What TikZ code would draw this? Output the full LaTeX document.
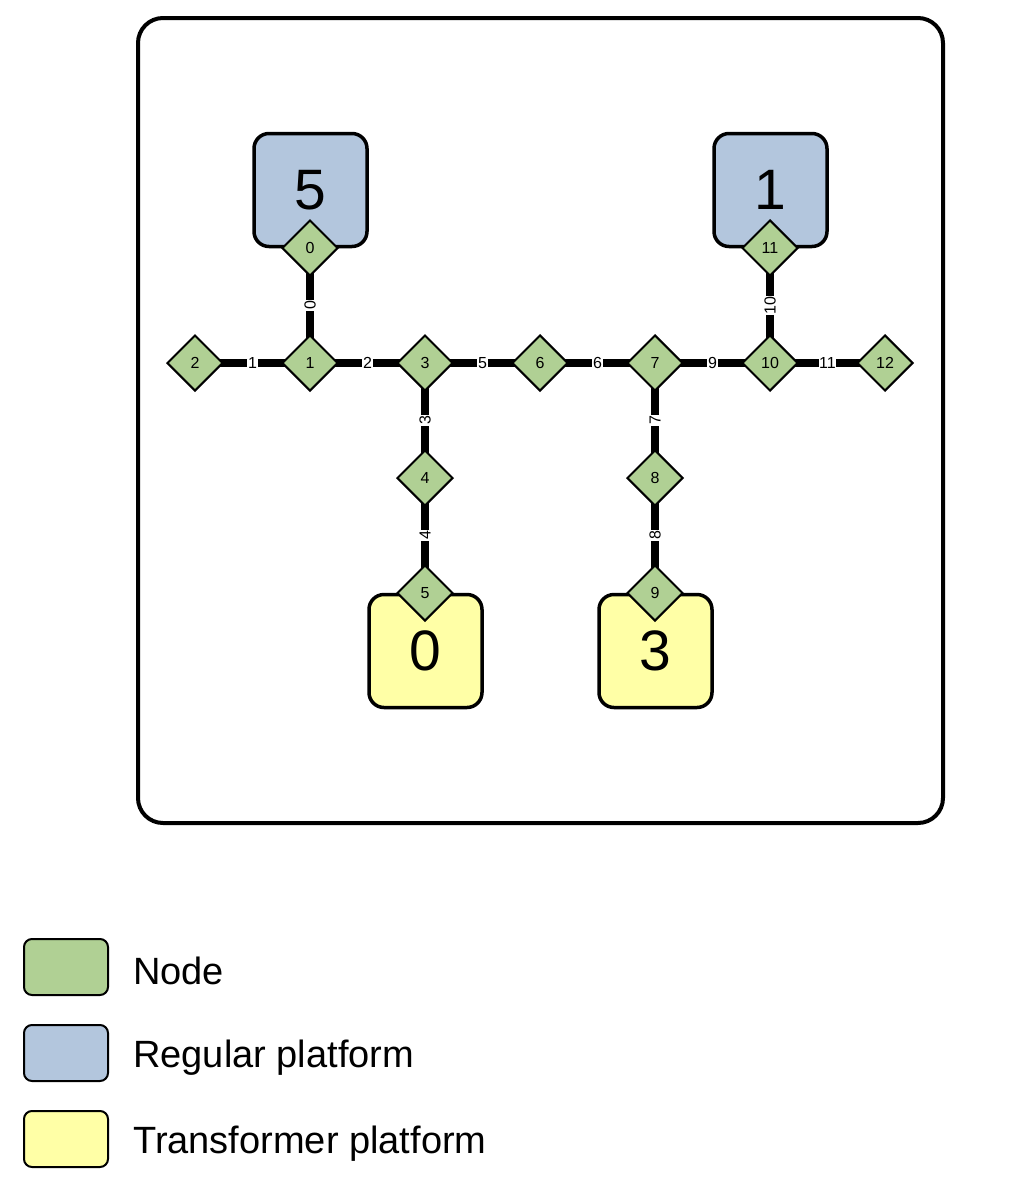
\documentclass[tikz,border=0pt]{standalone}
\usepackage{fontspec}
\setmainfont{Liberation Sans}
\usetikzlibrary{shapes.geometric,backgrounds}
\definecolor{nodegreen}{RGB}{176,208,148}
\definecolor{platblue}{RGB}{179,198,221}
\definecolor{platyellow}{RGB}{255,255,166}
\tikzset{
  dnode/.style={diamond,draw=black,line width=2pt,fill=nodegreen,inner sep=0pt,
    minimum width=56pt,minimum height=56pt,font=\fontsize{16}{16}\selectfont},
  plat/.style={rectangle,draw=black,line width=3.5pt,rounded corners=15pt,
    minimum width=113pt,minimum height=113pt,inner sep=0pt,font=\fontsize{57}{57}\selectfont},
  regular/.style={plat,fill=platblue},
  transformer/.style={plat,fill=platyellow},
  edge/.style={draw=black,line width=8pt},
  elabel/.style={fill=white,inner sep=0.6pt,font=\fontsize{16}{16}\selectfont},
  legbox/.style={rectangle,draw=black,line width=2pt,rounded corners=8pt,
    minimum width=84pt,minimum height=56pt,inner sep=0pt},
  legtext/.style={anchor=west,inner sep=0pt,font=\fontsize{38}{38}\selectfont}
}
\begin{document}
\begin{tikzpicture}[x=1pt,y=-1pt]
\useasboundingbox (0,0) rectangle (1020,1181);
\draw[line width=4pt,rounded corners=25pt] (138,18) rectangle (943,823);
% platforms
\node[regular] (p5) at (310.5,190) {5};
\node[regular] (p1) at (770.5,190) {1};
\node[transformer] (p0) at (425.5,651) {0};
\node[transformer] (p3) at (655.5,651) {3};
% nodes
\node[dnode] (n0) at (310,248) {0};
\node[dnode] (n1) at (310,363) {1};
\node[dnode] (n2) at (195,363) {2};
\node[dnode] (n3) at (425,363) {3};
\node[dnode] (n4) at (425,478) {4};
\node[dnode] (n5) at (425,593) {5};
\node[dnode] (n6) at (540,363) {6};
\node[dnode] (n7) at (655,363) {7};
\node[dnode] (n8) at (655,478) {8};
\node[dnode] (n9) at (655,593) {9};
\node[dnode] (n10) at (770,363) {10};
\node[dnode] (n11) at (770,248) {11};
\node[dnode] (n12) at (885,363) {12};
% edges
\begin{pgfonlayer}{background}
\draw[edge] (n0.center) -- node[elabel,rotate=90] {0} (n1.center);
\draw[edge] (n2.center) -- node[elabel] {1} (n1.center);
\draw[edge] (n1.center) -- node[elabel] {2} (n3.center);
\draw[edge] (n3.center) -- node[elabel,rotate=90] {3} (n4.center);
\draw[edge] (n4.center) -- node[elabel,rotate=90] {4} (n5.center);
\draw[edge] (n3.center) -- node[elabel] {5} (n6.center);
\draw[edge] (n6.center) -- node[elabel] {6} (n7.center);
\draw[edge] (n7.center) -- node[elabel,rotate=90] {7} (n8.center);
\draw[edge] (n8.center) -- node[elabel,rotate=90] {8} (n9.center);
\draw[edge] (n7.center) -- node[elabel] {9} (n10.center);
\draw[edge] (n11.center) -- node[elabel,rotate=90] {10} (n10.center);
\draw[edge] (n10.center) -- node[elabel] {11} (n12.center);
\end{pgfonlayer}
% legend
\node[legbox,fill=nodegreen] (l1) at (66,967) {};
\node[legbox,fill=platblue] (l2) at (66,1053) {};
\node[legbox,fill=platyellow] (l3) at (66,1139) {};
\node[legtext] (t1) at (133,971) {Node};
\node[legtext] (t2) at (133,1058) {Regular platform};
\node[legtext] (t3) at (133,1144) {Transformer platform};
\end{tikzpicture}
\end{document}
